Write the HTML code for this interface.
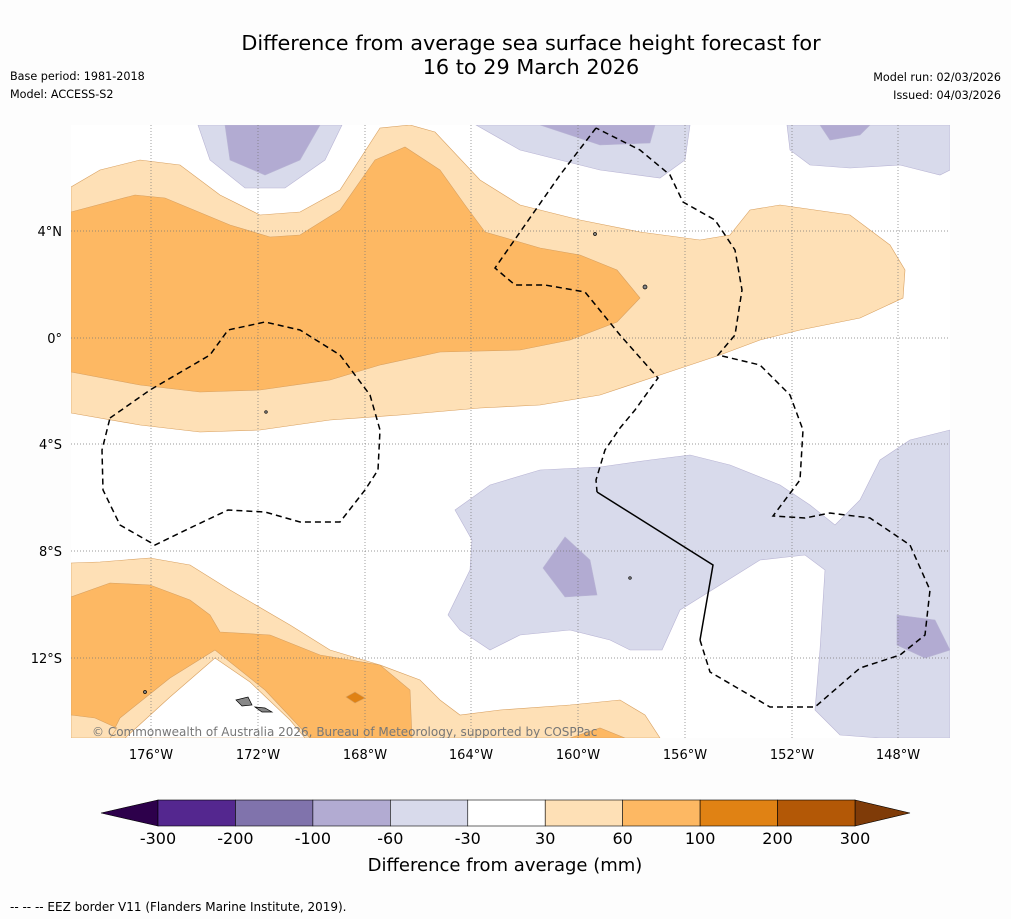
<!DOCTYPE html>
<html><head><meta charset="utf-8"><style>
body{margin:0;background:#fdfdfd;width:1011px;height:919px;overflow:hidden;font-family:"DejaVu Sans","Liberation Sans",sans-serif}
svg{position:absolute;left:0;top:0}
</style></head><body>
<svg width="1011" height="919" font-family="DejaVu Sans, Liberation Sans, sans-serif">
<text x="531" y="50" font-size="20.8" text-anchor="middle">Difference from average sea surface height forecast for</text>
<text x="531" y="74" font-size="20.8" text-anchor="middle">16 to 29 March 2026</text>
<text x="10" y="80" font-size="11.2">Base period: 1981-2018</text>
<text x="10" y="98" font-size="11.2">Model: ACCESS-S2</text>
<text x="1001" y="81" font-size="11.2" text-anchor="end">Model run: 02/03/2026</text>
<text x="1001" y="99" font-size="11.2" text-anchor="end">Issued: 04/03/2026</text>
<defs><clipPath id="mc"><rect x="71" y="125" width="879" height="613"/></clipPath></defs>
<g clip-path="url(#mc)">
<rect x="71" y="125" width="879" height="613" fill="#fff"/>
<g stroke="#d8a060" stroke-width="0.6">
<path fill="#fee0b6" d="M71,187 100,170 140,160 180,165 220,195 260,215 300,212 340,190 380,128 410,125 435,132 480,180 520,205 580,220 640,232 700,240 730,235 750,210 780,205 850,215 890,245 905,270 903,298 860,318 800,330 760,340 720,355 660,375 600,395 540,405 480,408 400,415 330,420 260,430 200,432 140,425 71,413Z"/>
<path fill="#fdb863" d="M71,212 135,195 165,198 230,225 270,237 300,235 340,210 375,160 405,147 440,170 465,205 485,232 540,248 580,255 617,270 640,298 617,322 570,340 520,350 440,352 380,365 330,380 260,390 200,392 140,385 71,372Z"/>
<path fill="#fee0b6" d="M71,563 100,562 150,558 190,565 230,590 290,625 330,650 380,665 420,680 440,700 460,715 500,710 570,705 620,700 645,715 660,738 71,738Z"/>
<path fill="#fdb863" d="M71,597 110,583 150,585 190,600 210,615 220,632 270,635 320,655 380,665 410,690 412,738 310,738 265,690 215,650 170,678 120,718 110,738 71,738Z"/>
<path fill="#fee0b6" d="M71,715 95,718 117,728 110,738 71,738Z"/>
<path fill="#fff" d="M125,738 170,697 215,658 250,682 290,720 305,738Z"/>
<path fill="#fdb863" d="M570,738 600,728 625,738Z"/>
<path fill="#e08214" d="M346,697 355,692 365,698 355,703Z"/>
</g>
<g stroke="#b8b4d4" stroke-width="0.6">
<path fill="#d8daeb" d="M198,125 210,160 245,188 285,188 325,160 342,125Z"/>
<path fill="#b2abd2" d="M225,125 230,160 265,175 300,160 320,125Z"/>
<path fill="#d8daeb" d="M476,125 520,150 600,170 660,178 685,160 690,125Z"/>
<path fill="#b2abd2" d="M540,125 600,145 650,143 655,125Z"/>
<path fill="#d8daeb" d="M787,125 790,150 810,165 850,168 900,165 940,175 950,170 950,125Z"/>
<path fill="#b2abd2" d="M820,125 830,140 860,135 870,125Z"/>
<path fill="#d8daeb" d="M455,510 490,485 540,470 600,467 650,460 690,455 730,465 780,485 810,505 835,525 860,500 880,460 910,440 950,430 950,738 880,738 840,735 815,710 820,650 825,570 805,555 760,560 720,585 680,610 662,650 630,650 610,640 570,630 520,635 490,650 460,630 448,615 470,570 472,540Z"/>
<path fill="#b2abd2" d="M543,568 565,537 590,560 597,595 565,597Z"/>
<path fill="#b2abd2" d="M897,615 935,620 950,650 925,658 897,645Z"/>
</g>
<g stroke="#777" stroke-width="0.7" stroke-dasharray="1,2">
<line x1="151" y1="125" x2="151" y2="738"/><line x1="258" y1="125" x2="258" y2="738"/><line x1="365" y1="125" x2="365" y2="738"/><line x1="471" y1="125" x2="471" y2="738"/><line x1="578" y1="125" x2="578" y2="738"/><line x1="685" y1="125" x2="685" y2="738"/><line x1="792" y1="125" x2="792" y2="738"/><line x1="898" y1="125" x2="898" y2="738"/>
<line x1="71" y1="231" x2="950" y2="231"/><line x1="71" y1="338" x2="950" y2="338"/><line x1="71" y1="444" x2="950" y2="444"/><line x1="71" y1="551" x2="950" y2="551"/><line x1="71" y1="658" x2="950" y2="658"/>
</g>
<g fill="none" stroke="#000" stroke-width="1.5" stroke-dasharray="6,4">
<path d="M110,418 150,390 210,355 228,330 265,322 300,330 340,355 370,395 380,430 378,470 365,490 340,522 300,522 265,512 228,510 190,528 155,545 120,525 103,490 102,450 110,418"/>
<path d="M596,128 560,175 525,225 495,268 515,285 545,285 585,292 620,335 658,378 635,410 620,428 605,450 596,480 597,492"/>
<path d="M700,640 710,672 770,707 815,707 860,668 900,655 925,635 930,590 910,545 870,518 830,513 805,518 773,516 800,480 803,430 790,395 760,365 718,355 735,335 742,290 735,250 715,220 683,202 670,175 640,150 596,128"/>
</g>
<path d="M597,492 713,565 700,640" fill="none" stroke="#000" stroke-width="1.5"/>
<g fill="#888" stroke="#000" stroke-width="0.7">
<path d="M236,700 248,697 252,705 242,706Z"/><path d="M255,707 265,708 272,712 262,712Z"/>
<circle cx="645" cy="287" r="2"/><circle cx="595" cy="234" r="1.5"/><circle cx="145" cy="692" r="1.5"/><circle cx="266" cy="412" r="1.3"/><circle cx="630" cy="578" r="1.3"/>
</g>
<text x="92" y="736" font-size="12" fill="#777">© Commonwealth of Australia 2026, Bureau of Meteorology, supported by COSPPac</text>
</g>
<g font-size="13">
<text x="151" y="759" text-anchor="middle">176°W</text><text x="258" y="759" text-anchor="middle">172°W</text><text x="365" y="759" text-anchor="middle">168°W</text><text x="471" y="759" text-anchor="middle">164°W</text><text x="578" y="759" text-anchor="middle">160°W</text><text x="685" y="759" text-anchor="middle">156°W</text><text x="792" y="759" text-anchor="middle">152°W</text><text x="898" y="759" text-anchor="middle">148°W</text>
<text x="62" y="236" text-anchor="end">4°N</text><text x="62" y="343" text-anchor="end">0°</text><text x="62" y="449" text-anchor="end">4°S</text><text x="62" y="556" text-anchor="end">8°S</text><text x="62" y="663" text-anchor="end">12°S</text>
</g>
<g id="cbar"></g>
<text x="505" y="871" font-size="18" text-anchor="middle">Difference from average (mm)</text>
<text x="10" y="911" font-size="12">-- -- -- EEZ border V11 (Flanders Marine Institute, 2019).</text>
</svg>
<script>
const levels=[-300,-200,-100,-60,-30,30,60,100,200,300];
const colors=['#54278f','#8073ac','#b2abd2','#d8daeb','#ffffff','#fee0b6','#fdb863','#e08214','#b35806'];
const lowColor='#2d004b', highColor='#7f3b08';
const g=document.getElementById('cbar'),NS='http://www.w3.org/2000/svg';
const x0=158,x1=855,y=800,h=26;
const xs=i=>x0+(x1-x0)*i/(levels.length-1);
function mk(t,a){const e=document.createElementNS(NS,t);for(const k in a)e.setAttribute(k,a[k]);g.appendChild(e);return e;}
let e=mk('polygon',{points:`${x0},${y} ${x0},${y+h} 101,${y+h/2}`,fill:lowColor,stroke:'#000','stroke-width':0.6});


e=mk('polygon',{points:`${x1},${y} ${x1},${y+h} 910,${y+h/2}`,fill:highColor,stroke:'#000','stroke-width':0.6});


colors.forEach((c,i)=>{const r=mk('rect',{x:xs(i),y:y,width:xs(i+1)-xs(i),height:h,fill:c,stroke:'#000','stroke-width':0.6});

});
levels.forEach((v,i)=>{const t=mk('text',{x:xs(i),y:844,'font-size':16,'text-anchor':'middle'});t.textContent=v;

});
</script>
</body></html>
